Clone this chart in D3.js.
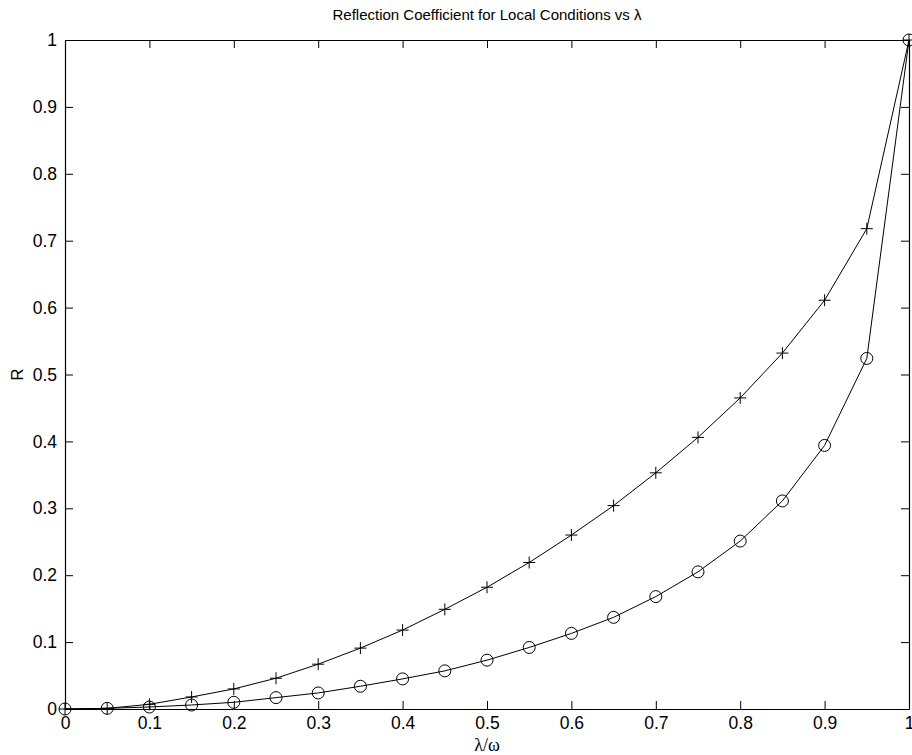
<!DOCTYPE html>
<html>
<head>
<meta charset="utf-8">
<script src="https://cdn.jsdelivr.net/npm/d3@7"></script>
<style>
  html, body { margin: 0; padding: 0; background: #fff; }
  svg { display: block; }
  text { font-family: "Liberation Sans", Arial, Helvetica, sans-serif; fill: #000; }
</style>
</head>
<body>
<svg id="chart" width="912" height="755"></svg>
<script>
// Wave parameter ratio λ/ω
const lambdaRatio = [0, 0.05, 0.1, 0.15, 0.2, 0.25, 0.3, 0.35, 0.4, 0.45, 0.5,
                     0.55, 0.6, 0.65, 0.7, 0.75, 0.8, 0.85, 0.9, 0.95, 1.0];
// Reflection coefficient, first local condition (plus markers)
const rPlus = [0, 0.001, 0.007, 0.018, 0.030, 0.046, 0.067, 0.091, 0.118, 0.149, 0.182,
               0.219, 0.260, 0.304, 0.353, 0.406, 0.465, 0.532, 0.611, 0.718, 1.0];
// Reflection coefficient, second local condition (circle markers)
const rCircle = [0, 0.001, 0.003, 0.006, 0.010, 0.017, 0.024, 0.034, 0.045, 0.057, 0.073,
                 0.092, 0.113, 0.137, 0.168, 0.205, 0.251, 0.311, 0.394, 0.524, 1.0];
const xTicks = [0, 0.1, 0.2, 0.3, 0.4, 0.5, 0.6, 0.7, 0.8, 0.9, 1];
const yTicks = [0, 0.1, 0.2, 0.3, 0.4, 0.5, 0.6, 0.7, 0.8, 0.9, 1];

const svg = d3.select("#chart");
const plotL = 65, plotR = 909, plotT = 40, plotB = 709;

const x = d3.scaleLinear().domain([0, 1]).range([plotL, plotR]);
const y = d3.scaleLinear().domain([0, 1]).range([plotB, plotT]);
const fmt = d => d === 0 ? "0" : d === 1 ? "1" : d3.format(".1f")(d);
const tickLen = 8;

// Frame with inward ticks on all four sides
const axisStyle = g => {
  g.select(".domain").attr("stroke", "#000").attr("stroke-width", 1.2);
  g.selectAll(".tick line").attr("stroke", "#000").attr("stroke-width", 1);
  g.selectAll(".tick text")
    .style("font-size", "17.5px")
    .style("font-family", "'Liberation Sans', Arial, sans-serif");
};

svg.append("g").attr("transform", `translate(0,${plotB})`)
  .call(d3.axisBottom(x).tickValues(xTicks).tickFormat(fmt)
        .tickSizeInner(-tickLen).tickSizeOuter(0).tickPadding(8))
  .call(axisStyle);

svg.append("g").attr("transform", `translate(0,${plotT})`)
  .call(d3.axisTop(x).tickValues(xTicks).tickFormat("")
        .tickSizeInner(-tickLen).tickSizeOuter(0))
  .call(axisStyle);

svg.append("g").attr("transform", `translate(${plotL},0)`)
  .call(d3.axisLeft(y).tickValues(yTicks).tickFormat(fmt)
        .tickSizeInner(-tickLen).tickSizeOuter(0).tickPadding(8))
  .call(axisStyle);

svg.append("g").attr("transform", `translate(${plotR},0)`)
  .call(d3.axisRight(y).tickValues(yTicks).tickFormat("")
        .tickSizeInner(-tickLen).tickSizeOuter(0))
  .call(axisStyle);

// Series lines
const line = d3.line().x((d, i) => x(lambdaRatio[i])).y(d => y(d));
[rPlus, rCircle].forEach(s => {
  svg.append("path").datum(s)
    .attr("d", line)
    .attr("fill", "none")
    .attr("stroke", "#000")
    .attr("stroke-width", 1);
});

// Plus markers
const ms = 6;
svg.append("g").selectAll("path").data(rPlus).join("path")
  .attr("d", (d, i) => {
    const cx = x(lambdaRatio[i]), cy = y(d);
    return `M${cx - ms},${cy}H${cx + ms}M${cx},${cy - ms}V${cy + ms}`;
  })
  .attr("stroke", "#000").attr("stroke-width", 1).attr("fill", "none");

// Circle markers
svg.append("g").selectAll("circle").data(rCircle).join("circle")
  .attr("cx", (d, i) => x(lambdaRatio[i]))
  .attr("cy", d => y(d))
  .attr("r", 6)
  .attr("stroke", "#000").attr("stroke-width", 1).attr("fill", "none");

// Title and axis labels
svg.append("text")
  .attr("x", (plotL + plotR) / 2).attr("y", 20)
  .attr("text-anchor", "middle")
  .style("font-size", "15px")
  .text("Reflection Coefficient for Local Conditions vs λ");

svg.append("text")
  .attr("x", (plotL + plotR) / 2).attr("y", 751)
  .attr("text-anchor", "middle")
  .style("font-family", "'Liberation Serif', 'Times New Roman', serif")
  .style("font-size", "18px")
  .text("λ/ω");

svg.append("text")
  .attr("transform", `translate(23,${(plotT + plotB) / 2}) rotate(-90)`)
  .attr("text-anchor", "middle")
  .style("font-size", "17px")
  .text("R");
</script>
</body>
</html>
